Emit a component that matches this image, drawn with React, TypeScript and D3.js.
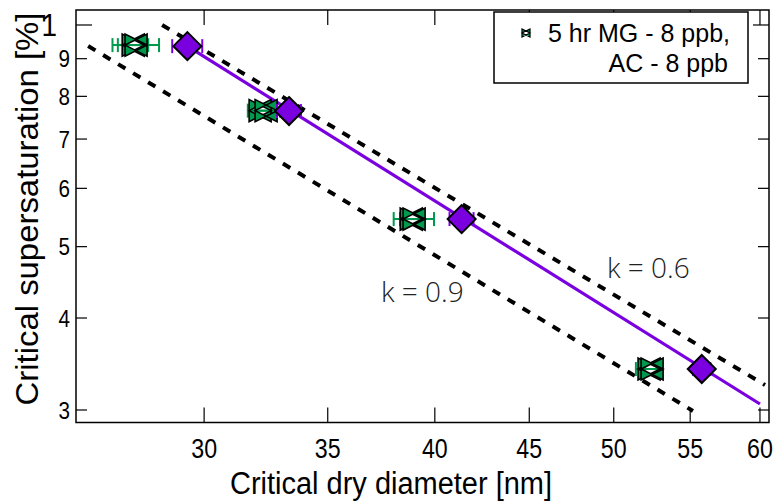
import React from 'react';
import * as d3 from 'd3';

// ---- data ----
const diameterTicks = [30, 35, 40, 45, 50, 55, 60];
const ssMinorTicks = [0.3, 0.4, 0.5, 0.6, 0.7, 0.8, 0.9];
const ssMinorLabels = ['3', '4', '5', '6', '7', '8', '9'];
const ssMajorTicks = [1];
const ssMajorLabels = ['1'];

// AC - 8 ppb (purple diamonds)
const acDiameter = [29.38, 33.35, 41.36, 55.8];
const acDiameterErr = [0.55, 0.5, 0.62, 0.6];
const acSS = [0.936, 0.764, 0.545, 0.341];

// 5 hr MG - 8 ppb (green bowties)
const mgDiameter = [27.46, 27.56, 32.17, 32.41, 38.84, 38.98, 52.25, 52.45];
const mgDiameterErr = [0.52, 0.8, 0.49, 0.57, 0.54, 0.98, 0.85, 0.46];
const mgSS = [0.939, 0.939, 0.765, 0.765, 0.545, 0.545, 0.341, 0.341];

// fitted line
const fitDiameter = [29.38, 60];
const fitSS = [0.936, 0.3057];

// kappa lines
const kappa06Diameter = [28.47, 60.38];
const kappa06SS = [1.0, 0.3244];
const kappa09Diameter = [25.96, 55.19];
const kappa09SS = [0.9364, 0.2991];

const legendLines = ['5 hr MG - 8 ppb,', 'AC - 8 ppb'];
const kappaLabels = ['k = 0.6', 'k = 0.9'];

const W = 775;
const H = 503;
const PL = 76, PR = 769, PT = 10, PB = 422.5;
const PURPLE = '#7a00e0';
const GREEN = '#00994d';
const FONT = 'Liberation Sans, Arial, Helvetica, sans-serif';
const KFONT = 'Open Sans, DejaVu Sans, sans-serif';

function bowtie(cx: number, cy: number, hw: number, hh: number) {
  const a = `M${cx - hw},${cy - hh}L${cx - hw},${cy + hh}L${cx + hw},${cy}Z`;
  const b = `M${cx + hw},${cy - hh}L${cx + hw},${cy + hh}L${cx - hw},${cy}Z`;
  return a + b;
}

function CText(props: {
  x: number;
  y: number;
  size: number;
  sx: number;
  anchor?: string;
  dy?: string;
  children: React.ReactNode;
}) {
  const { x, y, size, sx, anchor, dy, children } = props;
  return (
    <g transform={`translate(${x},${y}) scale(${sx},1)`}>
      <text x={0} y={0} dy={dy} textAnchor={anchor || 'start'} fontFamily={FONT} fontSize={size} fill="#000">
        {children}
      </text>
    </g>
  );
}

export default function App() {
  const x = d3.scaleLog().domain([25.57, 60.68]).range([PL, PR]);
  const y = d3.scaleLog().domain([1.048, 0.2885]).range([PT, PB]);
  const line = d3
    .line<[number, number]>()
    .x((d) => x(d[0]))
    .y((d) => y(d[1]));

  const fitPts = fitDiameter.map((d, i) => [d, fitSS[i]] as [number, number]);
  const k06 = kappa06Diameter.map((d, i) => [d, kappa06SS[i]] as [number, number]);
  const k09 = kappa09Diameter.map((d, i) => [d, kappa09SS[i]] as [number, number]);

  const xTickLen = 15;
  const yTickLen = 11;
  const yMajorLen = 16;

  return (
    <svg width={W} height={H} style={{ position: 'absolute', left: 0, top: 0 }}>
      <rect x={0} y={0} width={W} height={H} fill="#fff" />
      {/* kappa lines */}
      <path d={line(k06) || ''} fill="none" stroke="#000" strokeWidth={4} strokeDasharray="8.5 9" />
      <path d={line(k09) || ''} fill="none" stroke="#000" strokeWidth={4} strokeDasharray="8.5 9" />
      {/* fit line */}
      <path d={line(fitPts) || ''} fill="none" stroke={PURPLE} strokeWidth={3.2} />

      {/* green error bars */}
      {mgDiameter.map((d, i) => {
        const x0 = x(d - mgDiameterErr[i]);
        const x1 = x(d + mgDiameterErr[i]);
        const cy = y(mgSS[i]);
        return (
          <g key={'mge' + i} stroke={GREEN} strokeWidth={2}>
            <line x1={x0} x2={x1} y1={cy} y2={cy} />
            <line x1={x0} x2={x0} y1={cy - 7} y2={cy + 7} />
            <line x1={x1} x2={x1} y1={cy - 7} y2={cy + 7} />
          </g>
        );
      })}
      {/* green markers */}
      {mgDiameter.map((d, i) => (
        <path
          key={'mgm' + i}
          d={bowtie(x(d), y(mgSS[i]), 11, 11)}
          fill={GREEN}
          stroke="#000"
          strokeWidth={1.6}
        />
      ))}

      {/* purple error bars */}
      {acDiameter.map((d, i) => {
        const x0 = x(d - acDiameterErr[i]);
        const x1 = x(d + acDiameterErr[i]);
        const cy = y(acSS[i]);
        return (
          <g key={'ace' + i} stroke={PURPLE} strokeWidth={2}>
            <line x1={x0} x2={x1} y1={cy} y2={cy} />
            <line x1={x0} x2={x0} y1={cy - 7} y2={cy + 7} />
            <line x1={x1} x2={x1} y1={cy - 7} y2={cy + 7} />
          </g>
        );
      })}
      {/* purple diamonds */}
      {acDiameter.map((d, i) => {
        const cx = x(d);
        const cy = y(acSS[i]);
        const r = 14;
        return (
          <path
            key={'acm' + i}
            d={`M${cx},${cy - r}L${cx + r},${cy}L${cx},${cy + r}L${cx - r},${cy}Z`}
            fill={PURPLE}
            stroke="#000"
            strokeWidth={2}
          />
        );
      })}

      {/* axes box */}
      <rect x={PL} y={PT} width={PR - PL} height={PB - PT} fill="none" stroke="#000" strokeWidth={1.5} />
      {/* x ticks */}
      {diameterTicks.map((t) => (
        <g key={'xt' + t} stroke="#000" strokeWidth={1.2}>
          <line x1={x(t)} x2={x(t)} y1={PB} y2={PB - xTickLen} />
          <line x1={x(t)} x2={x(t)} y1={PT} y2={PT + xTickLen} />
        </g>
      ))}
      {diameterTicks.map((t) => (
        <CText key={'xl' + t} x={x(t)} y={458} size={27} sx={0.86} anchor="middle">
          {t}
        </CText>
      ))}
      {/* y ticks */}
      {ssMinorTicks.map((t) => (
        <g key={'yt' + t} stroke="#000" strokeWidth={1.2}>
          <line x1={PL} x2={PL + yTickLen} y1={y(t)} y2={y(t)} />
          <line x1={PR} x2={PR - yTickLen} y1={y(t)} y2={y(t)} />
        </g>
      ))}
      {ssMajorTicks.map((t) => (
        <g key={'ytm' + t} stroke="#000" strokeWidth={1.2}>
          <line x1={PL} x2={PL + yMajorLen} y1={y(t)} y2={y(t)} />
          <line x1={PR} x2={PR - yMajorLen} y1={y(t)} y2={y(t)} />
        </g>
      ))}
      {ssMinorTicks.map((t, i) => (
        <CText key={'yl' + t} x={70} y={y(t)} dy="0.36em" size={24} sx={0.86} anchor="end">
          {ssMinorLabels[i]}
        </CText>
      ))}
      {ssMajorTicks.map((t, i) => (
        <CText key={'ylm' + t} x={57} y={y(t)} dy="0.36em" size={31} sx={0.9} anchor="end">
          {ssMajorLabels[i]}
        </CText>
      ))}

      {/* axis labels */}
      <text
        x={391}
        y={494}
        textAnchor="middle"
        fontFamily={FONT}
        fontSize={31}
        textLength={322}
        lengthAdjust="spacingAndGlyphs"
        fill="#000"
      >
        Critical dry diameter [nm]
      </text>
      <text
        transform={`translate(38,209) rotate(-90)`}
        textAnchor="middle"
        fontFamily={FONT}
        fontSize={32}
        textLength={393}
        lengthAdjust="spacingAndGlyphs"
        fill="#000"
      >
        Critical supersaturation [%]
      </text>

      {/* kappa labels */}
      <text x={607} y={278} fontFamily={KFONT} fontWeight={300} fontSize={28} fill="#222">
        {kappaLabels[0]}
      </text>
      <text x={381} y={302} fontFamily={KFONT} fontWeight={300} fontSize={28} fill="#222">
        {kappaLabels[1]}
      </text>

      {/* legend */}
      <rect x={494} y={12} width={254} height={71} fill="#fff" stroke="#000" strokeWidth={1.5} />
      <path d={bowtie(526, 33, 4, 4)} fill={GREEN} stroke="#000" strokeWidth={1.2} />
      <text x={548} y={42} fontFamily={FONT} fontSize={25} fill="#000">
        {legendLines[0]}
      </text>
      <text x={728} y={72} textAnchor="end" fontFamily={FONT} fontSize={25} fill="#000">
        {legendLines[1]}
      </text>
    </svg>
  );
}
